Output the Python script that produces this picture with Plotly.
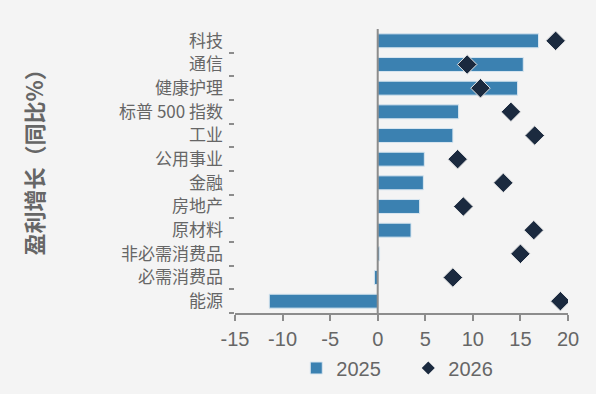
import plotly.graph_objects as go

categories = ["科技", "通信", "健康护理", "标普 500 指数", "工业", "公用事业", "金融",
              "房地产", "原材料", "非必需消费品", "必需消费品", "能源"]
values_2025 = [16.9, 15.3, 14.7, 8.5, 7.9, 4.9, 4.8, 4.4, 3.5, 0.2, -0.35, -11.4]
values_2026 = [18.7, 9.4, 10.8, 14.0, 16.5, 8.4, 13.2, 9.0, 16.4, 15.0, 7.9, 19.2]
x_tickvals = [-15, -10, -5, 0, 5, 10, 15, 20]
x_ticktext = ["-15", "-10", "-5", "0", "5", "10", "15", "20"]

FONT = "Liberation Sans, Arial, Noto Sans CJK SC, sans-serif"
CJK = "Noto Sans CJK SC, Liberation Sans, sans-serif"
GRAY = "#666666"
AXIS = "#8c8c8c"
DIAMOND = "#1b2a3f"

fig = go.Figure()
fig.add_trace(go.Bar(
    y=categories, x=values_2025, orientation="h", name="2025",
    marker=dict(color="#3b81b1", line=dict(color="#d8e6f0", width=1)),
))
fig.add_trace(go.Scatter(
    y=categories, x=values_2026, mode="markers", name="2026", showlegend=False,
    marker=dict(symbol="diamond", size=15, color=DIAMOND,
                line=dict(color="#e8e8e8", width=1)),
))
# legend proxy with a smaller diamond
fig.add_trace(go.Scatter(
    y=[None], x=[None], mode="markers", name="2026",
    marker=dict(symbol="diamond", size=10, color=DIAMOND),
))

fig.update_layout(
    width=596, height=394,
    paper_bgcolor="#f4f4f4", plot_bgcolor="#f4f4f4",
    margin=dict(l=235, r=28, t=29, b=81, autoexpand=False),
    font=dict(family=FONT, color=GRAY, size=16),
    bargap=0.41,
    showlegend=True,
    legend=dict(orientation="h", x=0.184, xanchor="left",
                yref="container", y=0.066, yanchor="middle",
                font=dict(size=20, color=GRAY), entrywidth=67,
                bgcolor="rgba(0,0,0,0)", itemwidth=30, tracegroupgap=0),
    xaxis=dict(range=[-15, 20], tickvals=x_tickvals, ticktext=x_ticktext,
               showgrid=False, zeroline=False, showline=True, linecolor=AXIS,
               linewidth=2, ticks="outside", ticklen=6, tickcolor=AXIS, tickwidth=2,
               ticklabelstandoff=1, automargin=False,
               tickfont=dict(size=20, color=GRAY)),
    yaxis=dict(categoryorder="array", categoryarray=categories[::-1],
               range=[-0.5, len(categories) - 0.5],
               tickmode="array", tickvals=categories, ticktext=categories,
               showgrid=False, zeroline=False, showline=False,
               ticks="outside", ticklen=5, tickcolor=AXIS, tickwidth=2,
               tickson="boundaries", ticklabelstandoff=11, automargin=False,
               tickfont=dict(size=17, color=GRAY, family=CJK)),
    shapes=[dict(type="line", xref="x", yref="paper", x0=0, x1=0, y0=0, y1=1,
                 line=dict(color=AXIS, width=2))],
    annotations=[dict(text="<b>盈利增长（同比%）</b>", xref="paper", yref="paper",
                      x=-0.607, y=0.551, xanchor="center", yanchor="middle",
                      textangle=-90, showarrow=False,
                      font=dict(size=22, color=GRAY, family=CJK))],
)

fig.write_html("out.html", config={"displayModeBar": False},
               post_script="document.body.style.margin='0';")
